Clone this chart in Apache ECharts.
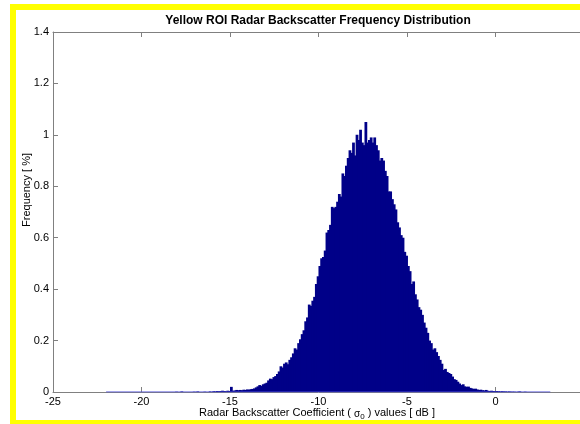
<!DOCTYPE html>
<html>
<head>
<meta charset="utf-8">
<script src="https://cdn.jsdelivr.net/npm/echarts@6/dist/echarts.min.js"></script>
<style>
  html, body { margin: 0; padding: 0; background: #ffffff; overflow: hidden; }
  #chart { width: 590px; height: 424px; }
</style>
</head>
<body>
<div id="chart"></div>
<script>
// Histogram of backscatter values: bins of 0.1 dB starting at -22 dB.
const BIN_START = -22.0;
const BIN_WIDTH = 0.1;

// Frequency [%] of each bin, ten bins (1 dB) per row.
const freq = [
  0, 0, 0, 0, 0, 0, 0, 0, 0, 0,                                              // -22
  0, 0, 0, 0, 0, 0, 0, 0, 0, 0,                                              // -21
  0, 0, 0, 0, 0, 0, 0, 0, 0, 0,                                              // -20
  0, 0, 0, 0, 0, 0, 0, 0, 0, 0.001,                                          // -19
  0, 0, 0.002, 0, 0, 0, 0, 0, 0, 0.001,                                      // -18
  0, 0.002, 0, 0, 0, 0.001, 0, 0, 0.002, 0,                                  // -17
  0.003, 0.002, 0.004, 0.003, 0.004, 0.005, 0.004, 0.003, 0.005, 0.004,      // -16
  0.020, 0.005, 0.006, 0.008, 0.007, 0.008, 0.007, 0.009, 0.008, 0.010,      // -15
  0.009, 0.011, 0.012, 0.014, 0.018, 0.022, 0.027, 0.024, 0.030, 0.033,      // -14
  0.036, 0.045, 0.052, 0.050, 0.058, 0.062, 0.070, 0.080, 0.100, 0.095,      // -13
  0.110, 0.115, 0.108, 0.125, 0.135, 0.150, 0.170, 0.165, 0.190, 0.205,      // -12
  0.225, 0.240, 0.275, 0.290, 0.340, 0.335, 0.355, 0.370, 0.420, 0.450,      // -11
  0.490, 0.520, 0.525, 0.550, 0.620, 0.630, 0.650, 0.720, 0.715, 0.720,      // -10
  0.740, 0.770, 0.760, 0.850, 0.840, 0.880, 0.910, 0.940, 0.930, 0.970,      // -9
  0.920, 1.000, 0.980, 1.020, 0.970, 0.960, 1.050, 0.970, 0.980, 0.990,      // -8
  0.970, 0.990, 0.960, 0.940, 0.900, 0.910, 0.900, 0.860, 0.840, 0.780,      // -7
  0.780, 0.750, 0.730, 0.710, 0.660, 0.640, 0.610, 0.600, 0.545, 0.530,      // -6
  0.490, 0.470, 0.420, 0.430, 0.380, 0.360, 0.330, 0.320, 0.300, 0.270,      // -5
  0.250, 0.230, 0.200, 0.190, 0.165, 0.170, 0.155, 0.140, 0.125, 0.110,      // -4
  0.086, 0.090, 0.078, 0.074, 0.070, 0.060, 0.050, 0.047, 0.040, 0.033,      // -3
  0.027, 0.030, 0.022, 0.020, 0.021, 0.016, 0.014, 0.012, 0.013, 0.010,      // -2
  0.008, 0.009, 0.007, 0.006, 0.008, 0.005, 0.004, 0.005, 0.004, 0.003,      // -1
  0.004, 0.003, 0.002, 0.003, 0.002, 0.002, 0.001, 0.002, 0.001, 0.001,      // 0
  0.001, 0, 0.001, 0.002, 0, 0, 0.001, 0, 0, 0,                              // 1
  0, 0, 0, 0, 0, 0, 0, 0, 0, 0,                                              // 2
  0                                                                          // 3
];

const xTicks = [-25, -20, -15, -10, -5, 0, 5];
const yTicks = [0, 0.2, 0.4, 0.6, 0.8, 1, 1.2, 1.4];

const titleText = 'Yellow ROI Radar Backscatter Frequency Distribution';
const yLabelText = 'Frequency [ %]';

// [left edge of bin, frequency]
const histData = freq.map((v, i) => [BIN_START + i * BIN_WIDTH, v]);
const binEnd = BIN_START + freq.length * BIN_WIDTH;

const FONT = '"Liberation Sans", Arial, Helvetica, sans-serif';
const AXIS_GREY = '#808080';
const FRAME_YELLOW = '#ffff00';

const chart = echarts.init(document.getElementById('chart'), null, { renderer: 'canvas' });

chart.setOption({
  animation: false,
  backgroundColor: '#ffffff',
  grid: { left: 53, top: 32, right: 3, bottom: 32, show: false },
  xAxis: [
    {
      type: 'value',
      min: xTicks[0], max: xTicks[xTicks.length - 1], interval: 5,
      axisLine: { show: true, onZero: false, lineStyle: { color: AXIS_GREY, width: 1 } },
      axisTick: { show: true, inside: true, length: 5, lineStyle: { color: AXIS_GREY } },
      axisLabel: { color: '#000', fontFamily: FONT, fontSize: 11, margin: 4 },
      splitLine: { show: false }
    },
    {
      type: 'value', position: 'top',
      min: xTicks[0], max: xTicks[xTicks.length - 1], interval: 5,
      axisLine: { show: true, onZero: false, lineStyle: { color: AXIS_GREY, width: 1 } },
      axisTick: { show: true, inside: true, length: 5, lineStyle: { color: AXIS_GREY } },
      axisLabel: { show: false },
      splitLine: { show: false }
    }
  ],
  yAxis: {
    type: 'value',
    min: yTicks[0], max: yTicks[yTicks.length - 1], interval: 0.2,
    axisLine: { show: true, onZero: false, lineStyle: { color: AXIS_GREY, width: 1 } },
    axisTick: { show: true, inside: true, length: 5, lineStyle: { color: AXIS_GREY } },
    axisLabel: { color: '#000', fontFamily: FONT, fontSize: 11, margin: 4 },
    splitLine: { show: false }
  },
  graphic: [
    // yellow frame: left, top and bottom bands
    { type: 'rect', silent: true, z: 100, shape: { x: 10, y: 4, width: 6, height: 420 }, style: { fill: FRAME_YELLOW } },
    { type: 'rect', silent: true, z: 100, shape: { x: 10, y: 4, width: 580, height: 6 }, style: { fill: FRAME_YELLOW } },
    { type: 'rect', silent: true, z: 100, shape: { x: 10, y: 420, width: 580, height: 4 }, style: { fill: FRAME_YELLOW } },
    {
      type: 'text', x: 318, y: 21,
      style: {
        text: titleText, fill: '#000', font: 'bold 12px ' + FONT,
        textAlign: 'center', textVerticalAlign: 'middle'
      }
    },
    {
      type: 'text', x: 27, y: 190, rotation: Math.PI / 2,
      style: {
        text: yLabelText, fill: '#000', font: '11px ' + FONT,
        textAlign: 'center', textVerticalAlign: 'middle'
      }
    },
    {
      type: 'text', x: 317, y: 413,
      style: {
        text: '{a|Radar Backscatter Coefficient ( }{s|σ}{sub|0}{a| ) values [ dB ]}',
        textAlign: 'center', textVerticalAlign: 'middle',
        rich: {
          a: { fontFamily: FONT, fontSize: 11, fill: '#000', lineHeight: 14 },
          s: { fontFamily: FONT, fontSize: 10, fill: '#000', lineHeight: 14, padding: [2, 0, 0, 0] },
          sub: { fontFamily: FONT, fontSize: 8, fill: '#000', lineHeight: 14, padding: [8, 0, 0, 0] }
        }
      }
    }
  ],
  series: [
    {
      type: 'custom',
      xAxisIndex: 0, yAxisIndex: 0,
      data: histData,
      clip: true,
      renderItem: function (params, api) {
        const x0 = api.value(0);
        const y = api.value(1);
        if (y <= 0) return null;
        const pTop = api.coord([x0, y]);
        const pBase = api.coord([x0 + BIN_WIDTH, 0]);
        return {
          type: 'rect',
          shape: { x: pTop[0], y: pTop[1], width: pBase[0] - pTop[0] + 1, height: pBase[1] - pTop[1] },
          style: { fill: '#000088' }
        };
      },
      z: 3
    },
    {
      // baseline across the binned range
      type: 'line',
      xAxisIndex: 0, yAxisIndex: 0,
      data: [[BIN_START, 0], [binEnd, 0]],
      symbol: 'none',
      lineStyle: { color: '#4b4bd6', width: 1 },
      z: 4
    }
  ]
});
</script>
</body>
</html>
